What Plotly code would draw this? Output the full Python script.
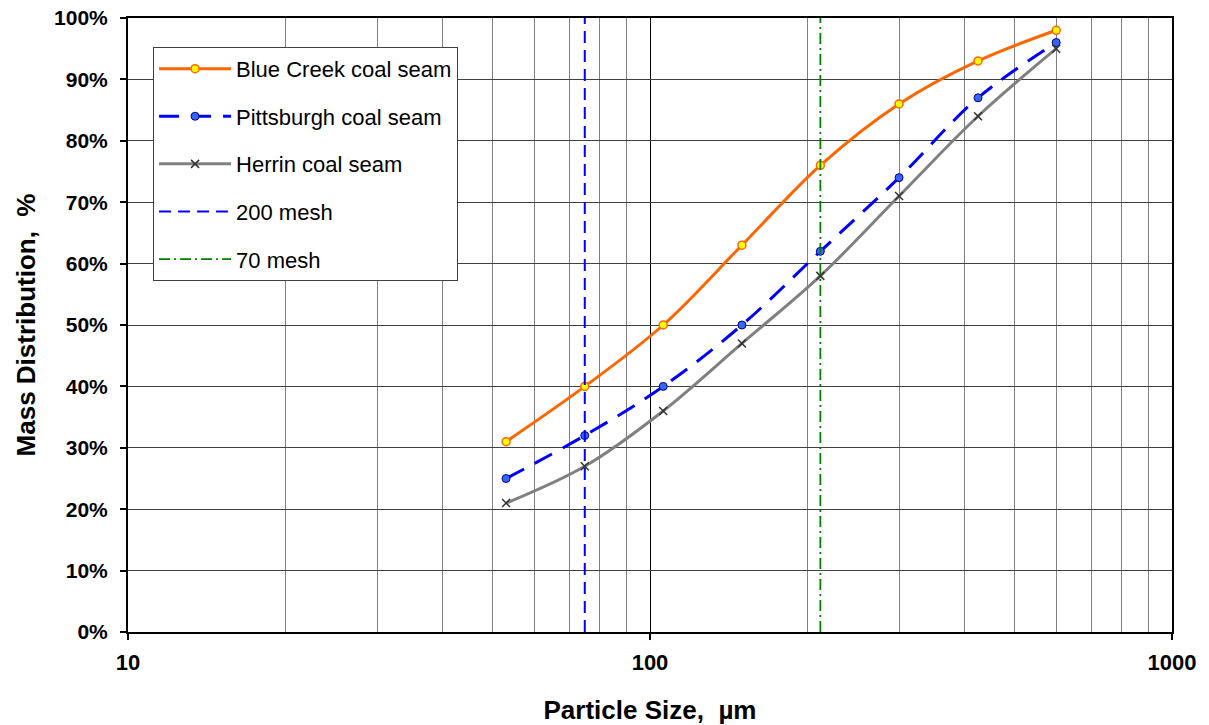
import plotly.graph_objects as go

sizes = [53, 75, 106, 150, 212, 300, 425, 600]
blue_creek = [31, 40, 50, 63, 76, 86, 93, 98]
pittsburgh = [25, 32, 40, 50, 62, 74, 87, 96]
herrin = [21, 27, 36, 47, 58, 71, 84, 95]
mesh200 = 75
mesh70 = 212
x_ticks = [10, 100, 1000]
minor_ticks = [20, 30, 40, 50, 60, 70, 80, 90, 200, 300, 400, 500, 600, 700, 800, 900]
y_ticks = list(range(0, 101, 10))

FONT = "Liberation Sans, Arial, sans-serif"

fig = go.Figure()
fig.add_trace(go.Scatter(
    x=sizes, y=blue_creek, name="Blue Creek coal seam", mode="lines+markers",
    line=dict(color="#FF6600", width=3, shape="spline"),
    marker=dict(symbol="circle", size=8, color="#FFFF00", line=dict(color="#FF6600", width=1.5)),
    legendgroup="a"))
fig.add_trace(go.Scatter(
    x=sizes, y=pittsburgh, name="Pittsburgh coal seam", mode="lines+markers",
    line=dict(color="#0000FF", width=3, shape="spline", dash="20px,12px"),
    marker=dict(symbol="circle", size=8, color="#3366FF", line=dict(color="#000080", width=1)),
    legendgroup="b"))
fig.add_trace(go.Scatter(
    x=sizes, y=herrin, name="Herrin coal seam", mode="lines+markers",
    line=dict(color="#808080", width=3, shape="spline"),
    marker=dict(symbol="x-thin", size=8, color="#333333", line=dict(color="#333333", width=1.5)),
    legendgroup="c"))
fig.add_trace(go.Scatter(
    x=[mesh200, mesh200], y=[0, 100], name="200 mesh", mode="lines",
    line=dict(color="#0000FF", width=2, dash="12px,7px"), legendgroup="d"))
fig.add_trace(go.Scatter(
    x=[mesh70, mesh70], y=[0, 100], name="70 mesh", mode="lines",
    line=dict(color="#008000", width=1.8, dash="11px,4px,2px,4px"), legendgroup="e"))

fig.update_layout(
    width=1209, height=725,
    margin=dict(l=128, r=37, t=18, b=93, autoexpand=False),
    paper_bgcolor="white", plot_bgcolor="white",
    font=dict(family=FONT, color="black"),
    legend=dict(
        x=0.024, y=0.953, xanchor="left", yanchor="top",
        bgcolor="white", bordercolor="#404040", borderwidth=1,
        font=dict(size=22, family=FONT, color="black"),
        itemwidth=72, tracegroupgap=16, traceorder="grouped",
    ),
    showlegend=True,
)
fig.update_xaxes(
    type="log", range=[1, 3], automargin=False,
    tickvals=x_ticks, ticktext=[str(v) for v in x_ticks],
    tickfont=dict(size=22, family=FONT, color="black", weight="bold"),
    ticks="outside", ticklen=6, tickcolor="black", tickwidth=1.5,
    ticklabelstandoff=4,
    showgrid=True, gridcolor="black", gridwidth=1,
    minor=dict(tickvals=minor_ticks, showgrid=True, gridcolor="#808080", gridwidth=1, ticks=""),
    showline=True, linecolor="black", linewidth=2, mirror=True,
    zeroline=False,
    title=dict(text="Particle Size,  µm", font=dict(size=26, family=FONT, color="black", weight="bold"), standoff=32),
)
fig.update_yaxes(
    range=[0, 100], automargin=False, tickvals=y_ticks, ticktext=[f"{v}%" for v in y_ticks],
    tickfont=dict(size=21, family=FONT, color="black", weight="bold"),
    ticks="outside", ticklen=6, tickcolor="black", tickwidth=1.5,
    ticklabelstandoff=8,
    showgrid=True, gridcolor="#404040", gridwidth=1,
    showline=True, linecolor="black", linewidth=2, mirror=True,
    zeroline=False,
    title=dict(text="Mass Distribution,  %", font=dict(size=26, family=FONT, color="black", weight="bold"), standoff=11),
)

fig.write_html("out.html", config={"displayModeBar": False},
               post_script="document.body.style.margin='0px';")
